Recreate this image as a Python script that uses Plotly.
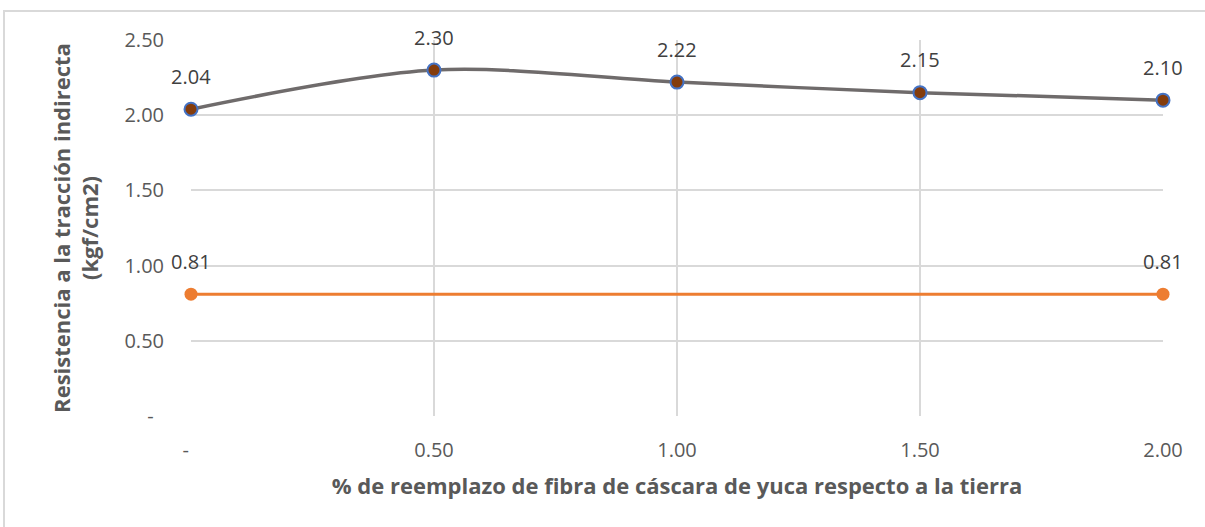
import plotly.graph_objects as go

x_vals = [0.0, 0.5, 1.0, 1.5, 2.0]
series_fibra = [2.04, 2.30, 2.22, 2.15, 2.10]
x_patron = [0.0, 2.0]
series_patron = [0.81, 0.81]
x_ticks = [0, 0.5, 1.0, 1.5, 2.0]
x_ticktext = ["-\u00a0\u00a0", "0.50", "1.00", "1.50", "2.00"]
y_ticks = [0, 0.5, 1.0, 1.5, 2.0, 2.5]
y_ticktext = ["-\u00a0\u00a0", "0.50", "1.00", "1.50", "2.00", "2.50"]

FONT = "Open Sans"
LABEL = "#404040"
AXIS = "#595959"

fig = go.Figure()
fig.add_trace(go.Scatter(
    x=x_patron, y=series_patron, mode="lines+markers",
    line=dict(color="#ED7D31", width=3),
    marker=dict(color="#ED7D31", size=13),
    cliponaxis=False, showlegend=False))
fig.add_trace(go.Scatter(
    x=x_vals, y=series_fibra, mode="lines+markers",
    line=dict(color="#6F6B6B", width=3.5, shape="spline", smoothing=0.9),
    marker=dict(color="#843C0C", size=13, line=dict(color="#4472C4", width=2)),
    cliponaxis=False, showlegend=False))

annotations = []
for xs, ys in ((x_patron, series_patron), (x_vals, series_fibra)):
    for xv, yv in zip(xs, ys):
        annotations.append(dict(x=xv, y=yv, xref="x", yref="y", text=f"{yv:.2f}",
                                showarrow=False, yshift=33,
                                font=dict(family=FONT, size=20, color=LABEL)))

fig.update_layout(
    width=1205, height=527,
    margin=dict(l=191, r=42, t=40, b=111),
    paper_bgcolor="white", plot_bgcolor="white",
    font=dict(family=FONT, color=AXIS),
    annotations=annotations,
    xaxis=dict(range=[0, 2], tickvals=x_ticks, ticktext=x_ticktext,
               showgrid=True, gridcolor="#D9D9D9", gridwidth=1.5,
               zeroline=False, showline=False, ticks="",
               tickfont=dict(size=20, color=AXIS),
               title=dict(text="<b>% de reemplazo de fibra de cáscara de yuca respecto a la tierra</b>",
                          font=dict(size=22, color=AXIS), standoff=16)),
    yaxis=dict(range=[0, 2.5], tickvals=y_ticks, ticktext=y_ticktext,
               showgrid=True, gridcolor="#D9D9D9", gridwidth=1.5,
               zeroline=False, showline=False, ticks="",
               tickfont=dict(size=20, color=AXIS),
               title=dict(text="<b>Resistencia a la tracción indirecta<br>(kgf/cm2)</b>",
                          font=dict(size=22, color=AXIS), standoff=19)),
)
fig.update_xaxes(ticklabelstandoff=20)
fig.update_yaxes(ticklabelstandoff=26)
# outer chart frame
fig.add_shape(type="rect", xref="paper", yref="paper",
              x0=(4 - 191) / 972, x1=1.2, y0=-0.5, y1=(416 - 11) / 376,
              line=dict(color="#D9D9D9", width=2), fillcolor="rgba(0,0,0,0)", layer="below")
fig.write_html("out.html", config={"displayModeBar": False},
               post_script="document.body.style.margin='0';")
